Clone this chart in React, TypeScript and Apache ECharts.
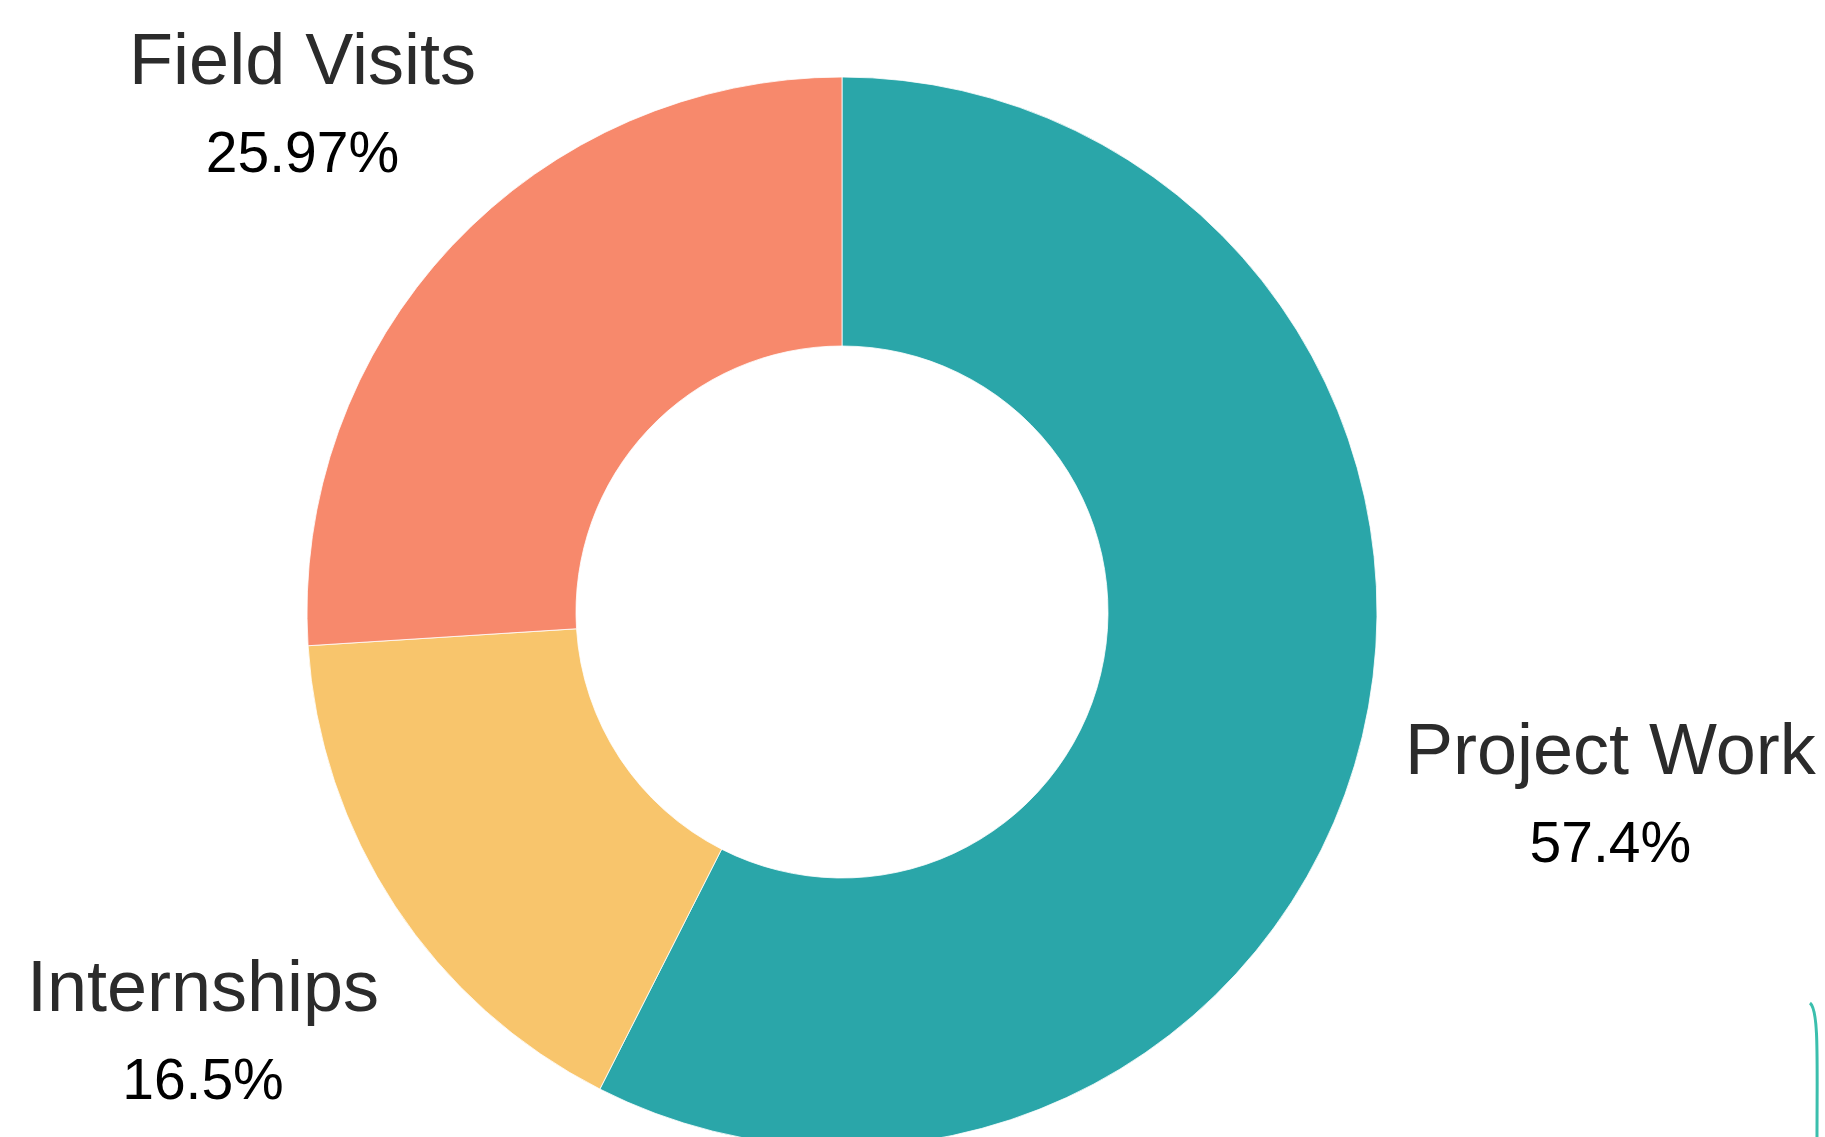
import React, { useEffect, useRef } from "react";
import * as echarts from "echarts";

// ---- data ----
const categories = ["Project Work", "Internships", "Field Visits"];
const shares = [57.4, 16.5, 25.97];

// ---- styling / layout ----
const sliceColors = ["#2AA6A9", "#F8C56C", "#F7896C"];
const labelDistance = [790, 765, 740];
const CENTER_X = 842;
const CENTER_Y = 612;
const INNER_R = 266;
const OUTER_R = 535;

function midAngle(i: number): number {
  const total = shares.reduce((a, b) => a + b, 0);
  let before = 0;
  for (let k = 0; k < i; k++) before += shares[k];
  return ((before + shares[i] / 2) / total) * Math.PI * 2;
}

export default function App() {
  const ref = useRef<HTMLDivElement>(null);

  useEffect(() => {
    if (!ref.current) return;
    const chart = echarts.init(ref.current, null, { renderer: "svg" });
    chart.setOption({
      animation: false,
      backgroundColor: "#ffffff",
      series: [
        {
          type: "pie",
          center: [CENTER_X, CENTER_Y],
          radius: [INNER_R, OUTER_R],
          startAngle: 90,
          clockwise: true,
          avoidLabelOverlap: false,
          silent: true,
          itemStyle: { borderColor: "#ffffff", borderWidth: 0.8 },
          label: {
            show: true,
            position: "outside",
            formatter: "{n|{b}}\n{p|{c}%}",
            rich: {
              n: {
                fontFamily: "Liberation Sans",
                fontSize: 72,
                color: "#2b2b2b",
                lineHeight: 93,
                align: "center",
              },
              p: {
                fontFamily: "Liberation Sans",
                fontSize: 57,
                color: "#000000",
                lineHeight: 93,
                align: "center",
              },
            },
          },
          labelLine: { show: false },
          labelLayout: (p: any) => {
            const a = midAngle(p.dataIndex);
            const d = labelDistance[p.dataIndex];
            return {
              x: CENTER_X + d * Math.sin(a),
              y: CENTER_Y - d * Math.cos(a),
              align: "center",
              verticalAlign: "middle",
            };
          },
          data: categories.map((name, i) => ({
            name,
            value: shares[i],
            itemStyle: { color: sliceColors[i] },
          })),
        },
      ],
      graphic: [
        {
          type: "bezierCurve",
          silent: true,
          shape: {
            x1: 1810,
            y1: 1003,
            cpx1: 1819,
            cpy1: 1010,
            cpx2: 1817,
            cpy2: 1060,
            x2: 1817,
            y2: 1137,
          },
          style: { stroke: "#3BBFAD", lineWidth: 3, fill: "none" },
        },
      ],
    });
    return () => chart.dispose();
  }, []);

  return (
    <div
      ref={ref}
      style={{
        position: "fixed",
        left: 0,
        top: 0,
        width: "1825px",
        height: "1137px",
      }}
    />
  );
}
